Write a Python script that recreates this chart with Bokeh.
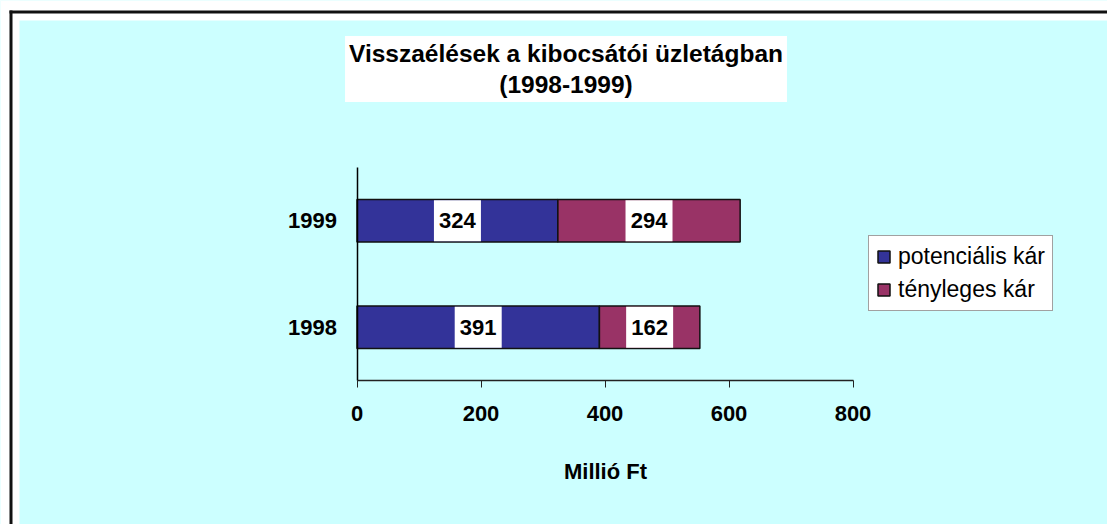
from bokeh.plotting import figure
from bokeh.models import (Range1d, FixedTicker, Legend, LegendItem, Label,
                          ColumnDataSource, LinearAxis, BoxAnnotation)
from bokeh.embed import file_html
from bokeh.resources import INLINE
from bokeh.core.properties import value

# ---- data ----
years = ["1998", "1999"]
potencialis = [391, 324]
tenyleges = [162, 294]
x_ticks = [0, 200, 400, 600, 800]
series_names = ["potenciális kár", "tényleges kár"]
title_text = "Visszaélések a kibocsátói üzletágban\n(1998-1999)"
x_label = "Millió Ft"

# ---- style / layout ----
CYAN = "#CCFFFF"
BLUE = "#333399"
MAROON = "#993366"
FONT = "Liberation Sans"

W, H = 1107, 524               # canvas == frame
X0_PX, X_SCALE = 356.5, 0.62   # canvas px of value 0, px per unit
Y0_PX, Y_SCALE = 380.0, 106.5  # canvas px of category-axis start, px per category


def xd(px):
    return (px - X0_PX) / X_SCALE


def yd(py):
    return (Y0_PX - py) / Y_SCALE


p = figure(width=W, height=H, x_range=Range1d(xd(0), xd(W)), y_range=Range1d(yd(H), yd(0)),
           output_backend="svg", toolbar_location=None, title=None,
           x_axis_location=None, y_axis_location=None,
           min_border=0, min_border_left=0, min_border_right=0,
           min_border_top=0, min_border_bottom=0)
p.background_fill_color = CYAN
p.border_fill_color = "white"
p.outline_line_color = None
p.grid.visible = False

# chart-area frame: white band + dark line on the top and left edges
p.add_layout(BoxAnnotation(left=xd(0), right=xd(19), bottom=yd(H), top=yd(0),
                           fill_color="white", fill_alpha=1, line_color=None))
p.add_layout(BoxAnnotation(left=xd(0), right=xd(W), bottom=yd(20), top=yd(0),
                           fill_color="white", fill_alpha=1, line_color=None))
p.add_layout(BoxAnnotation(left=xd(9), right=xd(12), bottom=yd(H), top=yd(10),
                           fill_color="#111111", fill_alpha=1, line_color=None))
p.add_layout(BoxAnnotation(left=xd(9), right=xd(W), bottom=yd(13), top=yd(10),
                           fill_color="#111111", fill_alpha=1, line_color=None))

ypos = [i + 0.5 for i in range(len(years))]
total = [a + b for a, b in zip(potencialis, tenyleges)]
src = ColumnDataSource(dict(
    y=ypos, pot=potencialis, ten=tenyleges, total=total,
    pot_mid=[a / 2 for a in potencialis],
    ten_mid=[a + b / 2 for a, b in zip(potencialis, tenyleges)],
    pot_lbl=[str(v) for v in potencialis],
    ten_lbl=[str(v) for v in tenyleges],
))

r1 = p.hbar(y="y", left=0, right="pot", height=0.4, fill_color=BLUE,
            line_color="#111111", line_width=1.5, source=src)
r2 = p.hbar(y="y", left="pot", right="total", height=0.4, fill_color=MAROON,
            line_color="#111111", line_width=1.5, source=src)

for mid, lbl in (("pot_mid", "pot_lbl"), ("ten_mid", "ten_lbl")):
    p.rect(x=mid, y="y", width=47, width_units="screen", height=0.385,
           fill_color="white", line_color=None, source=src)
    p.text(x=mid, y="y", text=lbl, text_align="center", text_baseline="middle",
           text_font=value(FONT), text_font_style="bold", text_font_size="22px",
           text_color="black", source=src)

xa = LinearAxis(fixed_location=0, bounds=(x_ticks[0], x_ticks[-1]),
                ticker=FixedTicker(ticks=x_ticks), axis_label=x_label)
xa.axis_line_color = "#222222"
xa.axis_line_width = 1.5
xa.major_tick_line_color = "#222222"
xa.major_tick_out = 7
xa.major_tick_in = 0
xa.minor_tick_line_color = None
xa.major_label_text_font = FONT
xa.major_label_text_font_style = "bold"
xa.major_label_text_font_size = "22px"
xa.major_label_text_color = "black"
xa.major_label_standoff = 18
xa.axis_label_text_font = FONT
xa.axis_label_text_font_style = "bold"
xa.axis_label_text_font_size = "22px"
xa.axis_label_text_color = "black"
xa.axis_label_standoff = 35
p.add_layout(xa, "below")

ya = LinearAxis(fixed_location=0, bounds=(0, len(years)),
                ticker=FixedTicker(ticks=ypos),
                major_label_overrides=dict(zip(ypos, years)))
ya.axis_line_color = "black"
ya.axis_line_width = 1.5
ya.major_tick_line_color = None
ya.major_tick_out = 0
ya.major_tick_in = 0
ya.minor_tick_line_color = None
ya.major_label_text_font = FONT
ya.major_label_text_font_style = "bold"
ya.major_label_text_font_size = "22px"
ya.major_label_text_color = "black"
ya.major_label_standoff = 20
p.add_layout(ya, "left")

legend = Legend(items=[LegendItem(label=series_names[0], renderers=[r1]),
                       LegendItem(label=series_names[1], renderers=[r2])],
                location=(868, H - 311), orientation="vertical",
                background_fill_color="white", background_fill_alpha=1.0,
                border_line_color="#444444", border_line_width=1,
                glyph_width=15, glyph_height=15, label_height=26, spacing=6,
                padding=7, margin=0, label_standoff=7,
                label_text_font=FONT, label_text_font_size="23px",
                label_text_color="black")
p.add_layout(legend)

title = Label(x=xd(565.5), y=yd(68.5), text=title_text,
              text_align="center", text_baseline="middle", text_font=FONT,
              text_font_style="bold", text_font_size="24.5px", text_color="black",
              text_line_height=1.15, background_fill_color="white", padding=4)
p.add_layout(title)

open("out.html", "w").write(file_html(p, INLINE))
